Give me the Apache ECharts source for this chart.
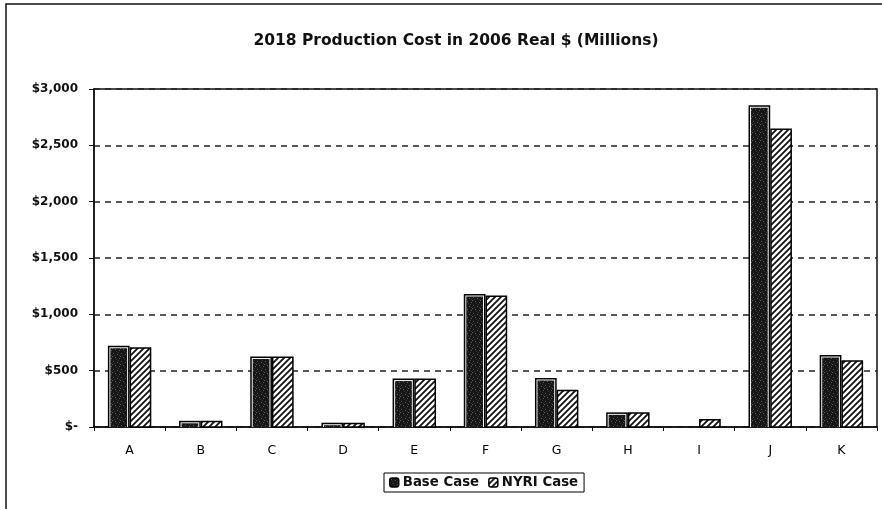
<!DOCTYPE html>
<html>
<head>
<meta charset="utf-8">
<script src="https://cdn.jsdelivr.net/npm/echarts@6/dist/echarts.min.js"></script>
<style>
  html, body { margin: 0; padding: 0; background: #fff; }
  #chart { width: 882px; height: 509px; }
</style>
</head>
<body>
<div id="chart"></div>
<script>
// Regions and production cost ($ millions, 2006 real dollars)
const categories = ['A', 'B', 'C', 'D', 'E', 'F', 'G', 'H', 'I', 'J', 'K'];
const baseCase = [722, 55, 625, 38, 430, 1180, 435, 130, 0, 2855, 640];
const nyriCase = [708, 55, 625, 38, 430, 1168, 330, 130, 72, 2650, 592];
const yTicks = [0, 500, 1000, 1500, 2000, 2500, 3000];

// Diagonal hatch fill for the NYRI series
function hatchPattern() {
  const s = 6;
  const c = document.createElement('canvas');
  c.width = s; c.height = s;
  const g = c.getContext('2d');
  g.fillStyle = '#fff';
  g.fillRect(0, 0, s, s);
  g.strokeStyle = '#111';
  g.lineWidth = 1.8;
  g.beginPath();
  g.moveTo(-1, s + 1); g.lineTo(s + 1, -1);
  g.moveTo(-s / 2 - 1, s / 2 + 1); g.lineTo(s / 2 + 1, -s / 2 - 1);
  g.moveTo(s / 2 - 1, s * 1.5 + 1); g.lineTo(s * 1.5 + 1, s / 2 - 1);
  g.stroke();
  return c;
}

// Dark stippled fill for the base series
function stipplePattern() {
  const s = 8;
  const c = document.createElement('canvas');
  c.width = s; c.height = s;
  const g = c.getContext('2d');
  g.fillStyle = '#161616';
  g.fillRect(0, 0, s, s);
  g.fillStyle = '#5e5e5e';
  [[1, 1], [5, 2], [3, 5], [7, 6], [0, 4]].forEach(d => g.fillRect(d[0], d[1], 1, 1));
  g.fillStyle = '#353535';
  [[2, 3], [4, 7], [7, 3], [6, 0]].forEach(d => g.fillRect(d[0], d[1], 1, 1));
  return c;
}

const hatch = { image: hatchPattern(), repeat: 'repeat' };
const stipple = { image: stipplePattern(), repeat: 'repeat' };

const font = 'DejaVu Sans, Verdana, sans-serif';
const BAR_SHARE = 0.305; // fraction of a category band taken by each bar

// Clustered bars: side = -1 draws left of the category centre, +1 right of it
function makeRenderer(side, framed) {
  return function (params, api) {
    const idx = api.value(0);
    const val = api.value(1);
    if (!val) return null;
    const base = api.coord([idx, 0]);
    const top = api.coord([idx, val]);
    const w = api.size([1, 0])[0] * BAR_SHARE;
    const x = side < 0 ? base[0] - w : base[0];
    const y = top[1];
    const h = base[1] - top[1];
    const children = [];
    if (framed) {
      // black edge, thin white inner rule, stippled core
      children.push({ type: 'rect', shape: { x: x, y: y, width: w, height: h }, style: { fill: '#000' } });
      children.push({ type: 'rect', shape: { x: x + 1.5, y: y + 1.5, width: w - 3, height: h - 1.5 }, style: { fill: '#f4f4f4' } });
      children.push({ type: 'rect', shape: { x: x + 2.5, y: y + 2.5, width: w - 5, height: h - 2.5 }, style: { fill: stipple } });
    } else {
      children.push({ type: 'rect', shape: { x: x + 0.75, y: y + 0.75, width: w - 1.5, height: h - 0.75 }, style: { fill: hatch, stroke: '#000', lineWidth: 1.5 } });
    }
    return { type: 'group', children: children };
  };
}

const chart = echarts.init(document.getElementById('chart'), null, { renderer: 'canvas' });
chart.setOption({
  backgroundColor: '#fff',
  animation: false,
  title: {
    text: '2018 Production Cost in 2006 Real $ (Millions)',
    left: 451,
    top: 28,
    textAlign: 'center',
    textStyle: { fontFamily: font, fontSize: 15.5, fontWeight: 'bold', color: '#111' }
  },
  legend: {
    data: [
      { name: 'Base Case', itemStyle: { color: stipple, borderColor: '#000', borderWidth: 1.5 } },
      { name: 'NYRI Case', itemStyle: { color: hatch, borderColor: '#000', borderWidth: 1.5 } }
    ],
    left: 384,
    top: 473,
    orient: 'horizontal',
    itemWidth: 9,
    itemHeight: 9,
    itemGap: 9,
    padding: [3, 6, 3, 5],
    borderColor: '#000',
    borderWidth: 1,
    textStyle: { fontFamily: font, fontSize: 13.3, fontWeight: 'bold', color: '#111', padding: [0, 0, 0, -1] }
  },
  grid: {
    left: 94,
    right: 5,
    top: 89,
    bottom: 82,
    show: true,
    borderColor: '#111',
    borderWidth: 1.5,
    containLabel: false
  },
  xAxis: {
    type: 'category',
    data: categories,
    axisLine: { lineStyle: { color: '#111', width: 1.5 } },
    axisTick: { show: true, length: 4, inside: false, lineStyle: { color: '#111' } },
    axisLabel: { fontFamily: font, fontSize: 12.5, color: '#000', margin: 17 }
  },
  yAxis: {
    type: 'value',
    min: 0,
    max: 3000,
    interval: 500,
    axisLine: { show: true, lineStyle: { color: '#111', width: 1.5 } },
    axisTick: { show: true, length: 5, lineStyle: { color: '#111' } },
    axisLabel: {
      fontFamily: font,
      fontSize: 12,
      fontWeight: 'bold',
      color: '#111',
      margin: 16,
      formatter: v => v === 0 ? '$-' : '$' + v.toLocaleString('en-US')
    },
    splitLine: { lineStyle: { color: '#222', width: 1.5, type: [6, 5] } }
  },
  series: [
    {
      name: 'Base Case',
      type: 'custom',
      renderItem: makeRenderer(-1, true),
      encode: { x: 0, y: 1 },
      itemStyle: { color: stipple, borderColor: '#000' },
      data: baseCase.map((v, i) => [i, v])
    },
    {
      name: 'NYRI Case',
      type: 'custom',
      renderItem: makeRenderer(1, false),
      encode: { x: 0, y: 1 },
      itemStyle: { color: hatch, borderColor: '#000' },
      data: nyriCase.map((v, i) => [i, v])
    }
  ],
  graphic: [
    {
      type: 'polyline',
      shape: { points: [[6, 509], [6, 4], [882, 4]] },
      style: { stroke: '#111', lineWidth: 1.5, fill: null },
      silent: true
    }
  ]
});
</script>
</body>
</html>
